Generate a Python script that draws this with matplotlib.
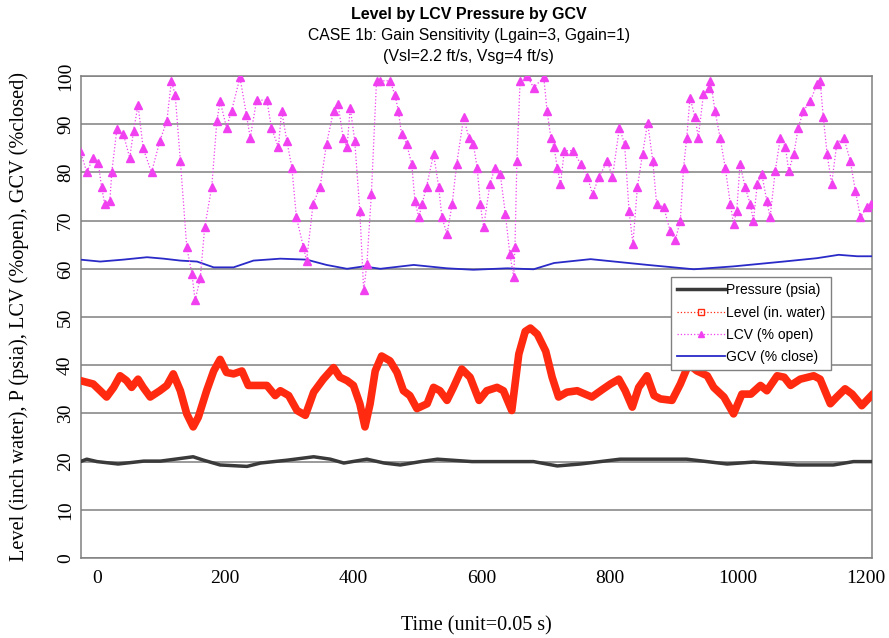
import matplotlib.pyplot as plt
from matplotlib.lines import Line2D

# Time (unit = 0.05 s) / value pairs
lcv_t = [-26, -16, -6, 2, 7, 12, 20, 23, 31, 41, 51, 57, 64, 72, 85, 98, 109, 116, 122, 130,
         140, 148, 153, 161, 168, 179, 187, 192, 202, 210, 223, 233, 239, 249, 265, 272, 283, 288,
         296, 304, 311, 322, 327, 337, 348, 358, 369, 376, 384, 390, 395, 402, 410, 416, 421, 428,
         436, 442, 457, 465, 470, 475, 483, 491, 496, 502, 507, 514, 525, 533, 538, 546, 554, 561,
         572, 580, 587, 593, 598, 603, 613, 621, 629, 637, 644, 650, 652, 655, 660, 671, 681, 697,
         702, 708, 713, 718, 723, 729, 742, 755, 765, 773, 783, 796, 804, 815, 823, 830, 836, 843,
         851, 859, 867, 873, 884, 894, 902, 910, 915, 920, 925, 933, 938, 946, 954, 957, 964, 972,
         980, 988, 993, 998, 1003, 1011, 1019, 1024, 1030, 1037, 1045, 1050, 1058, 1066, 1074, 1079,
         1087, 1094, 1102, 1113, 1123, 1128, 1133, 1139, 1146, 1154, 1165, 1175, 1183, 1191, 1201,
         1208]
lcv_v = [84.5, 80, 83, 82, 77, 73.5, 74, 80, 89, 88, 83, 88.6, 94, 85, 80, 86.5, 90.7, 99, 96, 82.4,
         64.5, 59, 53.5, 58, 68.6, 77, 90.7, 94.8, 89.3, 92.8, 99.7, 92, 87.2, 95, 95, 89.3, 85.2, 92.8,
         86.6, 81, 70.7, 64.5, 61.7, 73.4, 77, 85.9, 92.8, 94.1, 87.2, 85.2, 93.4, 86.6, 72, 55.5, 61,
         75.5, 99, 99, 99, 96, 92.8, 88, 85.9, 81.7, 74, 70.7, 73.4, 77, 83.8, 77, 70.7, 67.2, 73.4,
         81.7, 91.4, 87.2, 85.9, 81, 73.4, 68.6, 77.6, 81, 79.7, 71.4, 63.1, 58.3, 64.5, 82.4, 99, 100,
         97.6, 99.7, 92.8, 87.2, 85.2, 81, 77.6, 84.5, 84.5, 81.7, 79, 75.5, 79, 82.4, 79, 89.3, 85.9,
         72, 65.2, 77, 83.8, 90.3, 82.4, 73.4, 72.8, 67.9, 65.9, 70, 81, 87.2, 95.5, 91.4, 87.2, 96.2,
         97.6, 99, 92.8, 87.2, 81, 73.4, 69.3, 72, 81.7, 77, 73.4, 70, 77.6, 79.7, 74, 70.7, 80.3, 87.2,
         85.2, 80.3, 83.8, 89.3, 92.8, 94.8, 98.3, 99, 91.4, 83.8, 77.6, 85.9, 87.2, 82.4, 76.2, 70.7,
         72.8, 73.4]

level_t = [-26, -6, 5, 15, 26, 36, 46, 54, 64, 72, 83, 98, 109, 119, 130, 140, 150, 158, 171, 182,
           192, 202, 213, 226, 236, 249, 265, 278, 286, 299, 312, 325, 338, 353, 369, 379, 390, 400,
           410, 418, 426, 434, 444, 457, 468, 478, 488, 499, 515, 525, 535, 546, 556, 569, 582, 596,
           608, 624, 634, 647, 658, 668, 676, 687, 700, 710, 720, 733, 749, 772, 790, 801, 814, 824,
           835, 845, 858, 869, 879, 897, 910, 923, 936, 952, 962, 978, 993, 1006, 1020, 1035, 1045,
           1061, 1072, 1082, 1097, 1118, 1128, 1144, 1154, 1167, 1178, 1193, 1208]
level_v = [36.8, 36.1, 34.7, 33.4, 35.4, 37.8, 36.8, 35.4, 37.1, 35.4, 33.4, 34.7, 35.8, 38.2, 34.7,
           29.9, 27.2, 29.2, 34.7, 38.8, 41.2, 38.5, 38.2, 38.8, 35.8, 35.8, 35.8, 33.7, 34.7, 33.7,
           30.6, 29.6, 34.4, 37.1, 39.5, 37.5, 36.8, 35.8, 32, 27.2, 32, 38.8, 41.9, 40.9, 38.5, 34.7,
           33.7, 31, 32, 35.4, 34.7, 32.7, 35.4, 39.2, 37.5, 32.7, 34.7, 35.4, 34.7, 30.6, 42.3, 47,
           47.7, 46.4, 42.9, 37.5, 33.4, 34.4, 34.7, 33.4, 35.1, 36.1, 37.1, 34.7, 31.3, 35.4, 37.8,
           33.7, 33, 32.7, 36.1, 40.2, 38.8, 37.8, 35.4, 33.4, 29.9, 34, 34, 35.8, 34.7, 37.8, 37.5,
           35.8, 37.1, 37.8, 37.1, 32, 33.4, 35.1, 34, 31.6, 33.7]

pres_t = [-26, -16, 0, 33, 73, 99, 150, 166, 192, 234, 255, 297, 338, 364, 385, 421, 448, 473, 505,
          531, 585, 610, 650, 681, 718, 754, 816, 858, 920, 983, 1024, 1092, 1149, 1180, 1208]
pres_v = [20, 20.5, 20, 19.5, 20.1, 20.1, 21, 20.3, 19.3, 19, 19.7, 20.3, 21, 20.5, 19.7, 20.5, 19.7,
          19.3, 20, 20.5, 20, 20, 20, 20, 19.1, 19.5, 20.5, 20.5, 20.5, 19.5, 19.9, 19.3, 19.3, 20, 20]

gcv_t = [-26, 5, 41, 78, 104, 130, 156, 182, 213, 244, 286, 327, 358, 390, 416, 442, 494, 546, 587,
         640, 681, 713, 770, 807, 859, 931, 993, 1071, 1123, 1157, 1186, 1210]
gcv_v = [61.9, 61.5, 61.9, 62.4, 62.1, 61.7, 61.5, 60.3, 60.3, 61.7, 62.1, 61.9, 60.8, 60, 60.5, 60,
         60.8, 60.1, 59.8, 60.1, 59.9, 61.2, 62, 61.5, 60.8, 59.9, 60.5, 61.5, 62.2, 62.9, 62.6, 62.6]

xticks = [0, 200, 400, 600, 800, 1000, 1200]
yticks = [0, 10, 20, 30, 40, 50, 60, 70, 80, 90, 100]

c_pres = "#3a3a3a"
c_level = "#ff2a10"
c_lcv = "#f040f0"
c_gcv = "#2a2ac8"

fig = plt.figure(figsize=(8.89, 6.38), dpi=100)
ax = fig.add_axes([0.0911, 0.1254, 0.8898, 0.7555])

# series
ax.plot(gcv_t, gcv_v, color=c_gcv, lw=1.3, zorder=3)
ax.plot(lcv_t, lcv_v, color=c_lcv, lw=0.9, ls=":", marker="^", ms=6, mec=c_lcv, mfc=c_lcv, zorder=4)
ax.plot(level_t, level_v, color=c_level, lw=5.5, solid_joinstyle="round", zorder=5)
ax.plot(pres_t, pres_v, color=c_pres, lw=2.5, zorder=5)

ax.set_xlim(-25, 1209)
ax.set_ylim(0, 100)
ax.set_xticks(xticks)
ax.set_yticks(yticks)
ax.tick_params(axis="x", length=0, labelsize=14, pad=9)
ax.tick_params(axis="y", length=0, labelsize=14, pad=5)
for lbl in ax.get_xticklabels() + ax.get_yticklabels():
    lbl.set_family("Liberation Serif")
for lbl in ax.get_yticklabels():
    lbl.set_rotation(90)
    lbl.set_va("center")
ax.yaxis.grid(True, color="#808080", lw=1.1)
ax.set_axisbelow(True)
for s in ax.spines.values():
    s.set_color("#808080")
    s.set_linewidth(1.1)

ax.set_xlabel("Time (unit=0.05 s)", family="Liberation Serif", fontsize=14.5, labelpad=21)
ax.set_ylabel("Level (inch water), P (psia), LCV (%open), GCV (%closed)",
              family="Liberation Serif", fontsize=14.7, labelpad=20)

# title block
fig.text(0.527, 0.978, "Level by LCV Pressure by GCV", ha="center", va="center",
         family="Liberation Sans", fontweight="bold", fontsize=11.5)
fig.text(0.527, 0.944, "CASE 1b: Gain Sensitivity (Lgain=3, Ggain=1)", ha="center", va="center",
         family="Liberation Sans", fontsize=11.3)
fig.text(0.527, 0.912, "(Vsl=2.2 ft/s, Vsg=4 ft/s)", ha="center", va="center",
         family="Liberation Sans", fontsize=11.5)

handles = [
    Line2D([], [], color=c_pres, lw=2.5),
    Line2D([], [], color=c_level, lw=0.9, ls=":", marker="s", ms=4, mfc="none", mec=c_level),
    Line2D([], [], color=c_lcv, lw=0.9, ls=":", marker="^", ms=4, mfc=c_lcv, mec=c_lcv),
    Line2D([], [], color=c_gcv, lw=1.3),
]
labels = ["Pressure (psia)", "Level (in. water)", "LCV (% open)", "GCV (% close)"]
leg = ax.legend(handles, labels, loc="upper left", bbox_to_anchor=(0.746, 0.583),
                borderaxespad=0, prop={"family": "Liberation Sans", "size": 10},
                handlelength=3.4, handletextpad=0.1, borderpad=0.45, labelspacing=0.6,
                fancybox=False, framealpha=1, edgecolor="#808080")
leg.get_frame().set_linewidth(1.0)
leg.set_zorder(10)

fig.savefig("out.png", dpi=100, facecolor="white")
